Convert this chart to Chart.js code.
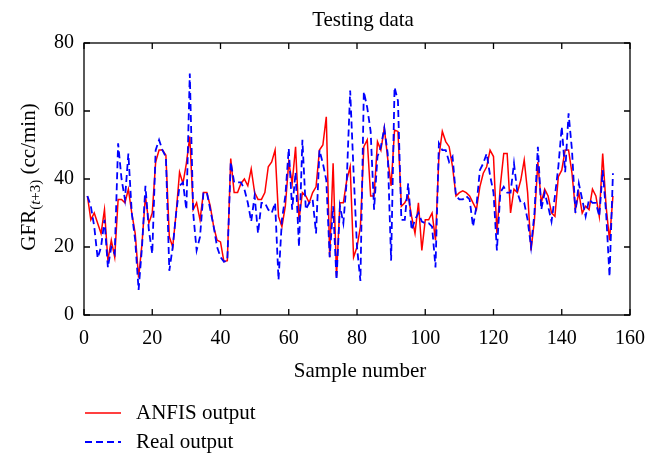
<!DOCTYPE html>
<html lang="en">
<head>
  <meta charset="UTF-8">
  <title>Testing data</title>
  <script src="https://cdn.jsdelivr.net/npm/chart.js"></script>
  <style>
body {
  margin: 0;
  background-color: #fff;
}
canvas {
  display: block;
}
  </style>
</head>
<body>
  <canvas id="gfrChart" width="662" height="470"></canvas>
  <script>
    // sample numbers 1..155
    var sampleNumbers = Array.from({ length: 155 }, function (_, i) { return i + 1; });

    var anfisOutput = [
      35, 28, 30, 27, 24, 31, 16, 22, 17, 34,
      34, 33, 37, 30, 24, 11, 21, 35, 27, 30,
      45, 48.5, 48.5, 47, 23, 20, 30, 42, 38.7, 44.6,
      52.5, 31, 33, 28, 36, 36, 32, 26, 22, 21.5,
      15.7, 16, 46, 36, 36, 38.7, 40, 38, 43, 36,
      34, 34, 36, 43.6, 45, 48.5, 29, 26, 32, 45,
      38.7, 49.5, 28, 36, 35, 33, 36, 37.7, 48.5, 50,
      58.3, 17, 44.6, 11.3, 33, 33, 39.7, 43.6, 17, 20,
      26, 49.5, 51.5, 35, 35, 51, 48.5, 55, 46, 38,
      54.4, 54, 32, 33, 35, 29, 24, 33, 19, 28,
      28, 30, 22, 46.6, 54, 51, 49.5, 43.6, 35, 36,
      36.5, 36, 35, 33, 31, 37.7, 41.7, 43.6, 48.5, 46.6,
      24, 38, 47.5, 47.5, 30, 37, 36, 39.7, 45.6, 36,
      19, 28, 45, 33, 37, 35, 30, 29, 40.7, 42.6,
      48.5, 48.5, 41.7, 31, 36, 30, 32, 31, 37, 35,
      29, 47.5, 32, 22, 35
    ];

    var realOutput = [
      35, 32, 26, 16.7, 20, 28, 14, 20, 18, 50.5,
      40, 34, 47.5, 30, 22, 7.4, 20, 38, 25, 18,
      48.5, 51.5, 48.5, 46.5, 13, 20, 30, 38, 39, 31,
      71, 30, 19, 23, 36, 36, 31, 26, 20, 17,
      15.7, 16, 45, 39, 39, 39, 37, 33, 27.5, 35,
      24, 33, 33, 31, 30, 33, 10.3, 28, 35, 49,
      31, 42, 20, 51.5, 31, 33, 34, 24, 48.5, 44.6,
      39.7, 17, 32, 10.3, 32, 27, 39.7, 66, 42, 20,
      10, 65.7, 61, 54, 31, 46.6, 49.5, 55, 47.5, 16,
      67, 63, 28, 28, 38.7, 25, 28, 30, 27.5, 27,
      27, 26, 14, 50.5, 48.5, 48.5, 45, 46.6, 35, 34,
      34, 35, 34, 26, 32, 42.6, 44.6, 47.5, 41, 36,
      19, 36, 37.7, 36, 36, 44.6, 36, 33, 33, 28,
      20, 30, 49.5, 31, 36, 32, 27.5, 35, 43.6, 55.4,
      42, 59.3, 48.5, 30, 38.7, 34, 29, 34, 33, 33,
      29, 42.6, 30, 11.3, 41.7
    ];

    var xTicks = [0, 20, 40, 60, 80, 100, 120, 140, 160];
    var yTicks = [0, 20, 40, 60, 80];

    var serif = '"Liberation Serif", "DejaVu Serif", serif';

    function toPoints(values) {
      return values.map(function (v, i) { return { x: sampleNumbers[i], y: v }; });
    }

    // frame, inward ticks, title, axis titles and legend
    var decorations = {
      id: 'decorations',
      afterDraw: function (chart) {
        var ctx = chart.ctx;
        var a = chart.chartArea;
        var xs = chart.scales.x, ys = chart.scales.y;
        ctx.save();
        ctx.strokeStyle = '#000';
        ctx.lineWidth = 1.3;
        ctx.strokeRect(a.left, a.top, a.right - a.left, a.bottom - a.top);

        ctx.beginPath();
        xTicks.forEach(function (v) {
          var px = xs.getPixelForValue(v);
          ctx.moveTo(px, a.bottom); ctx.lineTo(px, a.bottom - 6);
          ctx.moveTo(px, a.top); ctx.lineTo(px, a.top + 6);
        });
        yTicks.forEach(function (v) {
          var py = ys.getPixelForValue(v);
          ctx.moveTo(a.left, py); ctx.lineTo(a.left + 6, py);
          ctx.moveTo(a.right, py); ctx.lineTo(a.right - 6, py);
        });
        ctx.stroke();

        ctx.fillStyle = '#000';
        ctx.textAlign = 'center';
        ctx.textBaseline = 'middle';
        ctx.font = '21px ' + serif;
        ctx.fillText('Testing data', 363, 20);
        ctx.fillText('Sample number', 360, 371);

        // y axis title with subscript
        ctx.save();
        ctx.translate(28, 177);
        ctx.rotate(-Math.PI / 2);
        ctx.textAlign = 'left';
        ctx.textBaseline = 'alphabetic';
        var big = '21px ' + serif, small = '15px ' + serif, smallIt = 'italic 15px ' + serif;
        var parts = [
          ['GFR', big, 0], ['(', small, 5], ['t', smallIt, 5], ['+3)', small, 5], [' (cc/min)', big, 0]
        ];
        var total = 0;
        parts.forEach(function (p) { ctx.font = p[1]; total += ctx.measureText(p[0]).width; });
        var cx = -total / 2;
        parts.forEach(function (p) {
          ctx.font = p[1];
          ctx.fillText(p[0], cx, 7 + p[2]);
          cx += ctx.measureText(p[0]).width;
        });
        ctx.restore();

        // legend
        ctx.lineWidth = 1.5;
        ctx.strokeStyle = '#ff0000';
        ctx.setLineDash([]);
        ctx.beginPath(); ctx.moveTo(85, 413); ctx.lineTo(121, 413); ctx.stroke();
        ctx.strokeStyle = '#0000ff';
        ctx.lineWidth = 1.8;
        ctx.setLineDash([7, 4]);
        ctx.beginPath(); ctx.moveTo(85, 442); ctx.lineTo(121, 442); ctx.stroke();
        ctx.setLineDash([]);
        ctx.textAlign = 'left';
        ctx.textBaseline = 'middle';
        ctx.font = '21px ' + serif;
        ctx.fillText('ANFIS output', 136, 413);
        ctx.fillText('Real output', 136, 442);
        ctx.restore();
      }
    };

    var ctx = document.getElementById('gfrChart').getContext('2d');
    var chart = new Chart(ctx, {
      type: 'line',
      data: {
        datasets: [{
          label: 'ANFIS output',
          data: toPoints(anfisOutput),
          borderColor: '#ff0000',
          borderWidth: 1.5,
          pointRadius: 0,
          fill: false,
          tension: 0,
          order: 1
        }, {
          label: 'Real output',
          data: toPoints(realOutput),
          borderColor: '#0000ff',
          borderWidth: 1.8,
          borderDash: [7, 4],
          pointRadius: 0,
          fill: false,
          tension: 0,
          order: 0
        }]
      },
      options: {
        responsive: false,
        animation: false,
        layout: { padding: { top: 43, right: 32, left: 0, bottom: 0 } },
        plugins: {
          legend: { display: false },
          tooltip: { enabled: false }
        },
        scales: {
          x: {
            type: 'linear',
            min: 0,
            max: 160,
            afterFit: function (scale) { scale.height = 155; },
            afterBuildTicks: function (scale) { scale.ticks = xTicks.map(function (v) { return { value: v }; }); },
            grid: { display: false, drawTicks: false },
            border: { display: false },
            ticks: { color: '#000', padding: 12, font: { family: serif, size: 20 }, maxRotation: 0 }
          },
          y: {
            min: 0,
            max: 80,
            afterFit: function (scale) { scale.width = 84; },
            afterBuildTicks: function (scale) { scale.ticks = yTicks.map(function (v) { return { value: v }; }); },
            grid: { display: false, drawTicks: false },
            border: { display: false },
            ticks: { color: '#000', padding: 10, font: { family: serif, size: 20 } }
          }
        }
      },
      plugins: [decorations]
    });
  </script>
</body>
</html>
